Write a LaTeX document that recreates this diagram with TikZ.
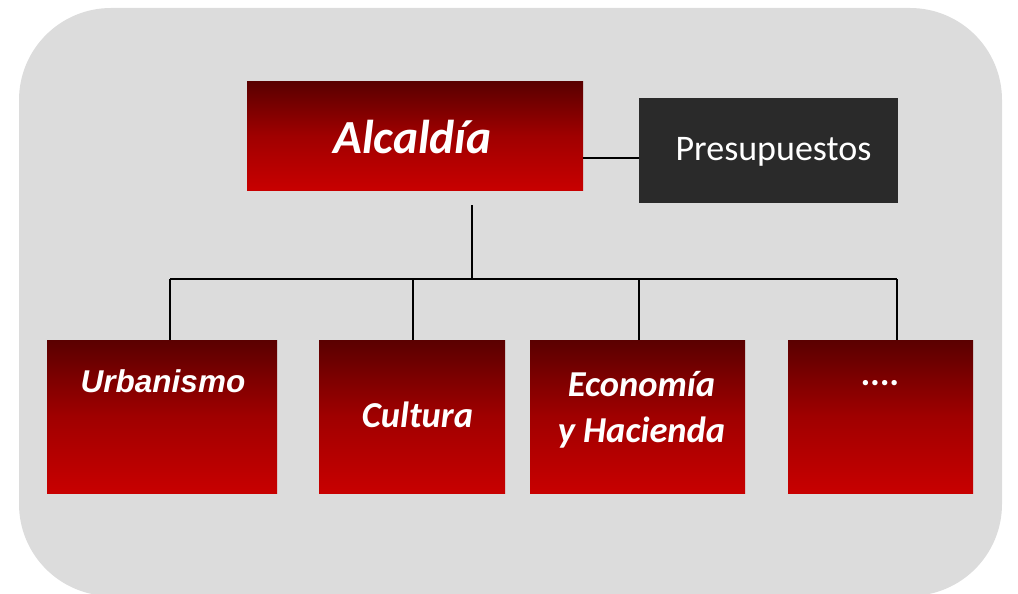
\documentclass[tikz,border=0pt]{standalone}
\usepackage{fontspec}
\newfontfamily\carlito{Carlito}
\newfontfamily\libsans{Liberation Sans}
\definecolor{bggray}{HTML}{DCDCDC}
\definecolor{darkbox}{HTML}{2A2A2A}
\definecolor{redtop}{HTML}{5A0000}
\definecolor{redmid}{HTML}{A00000}
\definecolor{redbot}{HTML}{C80000}
\tikzset{
  redbox/.style={inner sep=0pt, top color=redtop, bottom color=redbot, middle color=redmid, draw=none},
  wtext/.style={text=white, inner sep=0pt, anchor=base, align=center},
  conn/.style={draw=black, line width=1.6pt},
}
\begin{document}
\begin{tikzpicture}[x=1pt,y=-1pt]
\useasboundingbox (0,0) rectangle (1018,594);
\fill[bggray, rounded corners=92pt] (19,8) rectangle (1002,596);

% boxes
\node[redbox, minimum width=336pt, minimum height=108pt] (alc) at (415,136) {};
\node[fill=darkbox, inner sep=0pt, minimum width=259pt, minimum height=105pt] (pres) at (768.5,150.5) {};
\node[redbox, minimum width=230pt, minimum height=153pt] (urb) at (162,416.5) {};
\node[redbox, minimum width=186pt, minimum height=153pt] (cul) at (412,416.5) {};
\node[redbox, minimum width=215pt, minimum height=153pt] (eco) at (637.5,416.5) {};
\node[redbox, minimum width=185pt, minimum height=153pt] (etc) at (880.5,416.5) {};

% texts
\node[wtext, font=\carlito\bfseries\itshape\fontsize{47.5}{56}\selectfont] (alcT) at (412.5,153) {Alcaldía};
\node[wtext, font=\carlito\fontsize{36}{44}\selectfont] (presT) at (773.5,160) {Presupuestos};
\node[wtext, font=\libsans\bfseries\itshape\fontsize{31.5}{38}\selectfont] (urbT) at (163,392) {Urbanismo};
\node[wtext, font=\carlito\bfseries\itshape\fontsize{36.5}{44}\selectfont] (culT) at (417.5,427) {Cultura};
\node[wtext, font=\carlito\bfseries\itshape\fontsize{36.5}{46}\selectfont, anchor=north] (ecoT) at (641.5,371) {Economía\\y Hacienda};
\node[wtext, font=\carlito\bfseries\itshape\fontsize{36}{44}\selectfont] (etcT) at (880.5,385) {....};

% connectors
\draw[conn] (alc.east |- 0,158) -- (pres.west |- 0,158);
\coordinate (stem) at (472,205);
\coordinate (hub) at (472,279);
\coordinate (bl) at (170,279);
\coordinate (b2) at (413,279);
\coordinate (b3) at (639,279);
\coordinate (br) at (897,279);
\draw[conn] (stem) -- (hub);
\draw[conn] (bl) -- (br);
\draw[conn] (bl) -- (urb.north -| bl);
\draw[conn] (b2) -- (cul.north -| b2);
\draw[conn] (b3) -- (eco.north -| b3);
\draw[conn] (br) -- (etc.north -| br);
\end{tikzpicture}
\end{document}
